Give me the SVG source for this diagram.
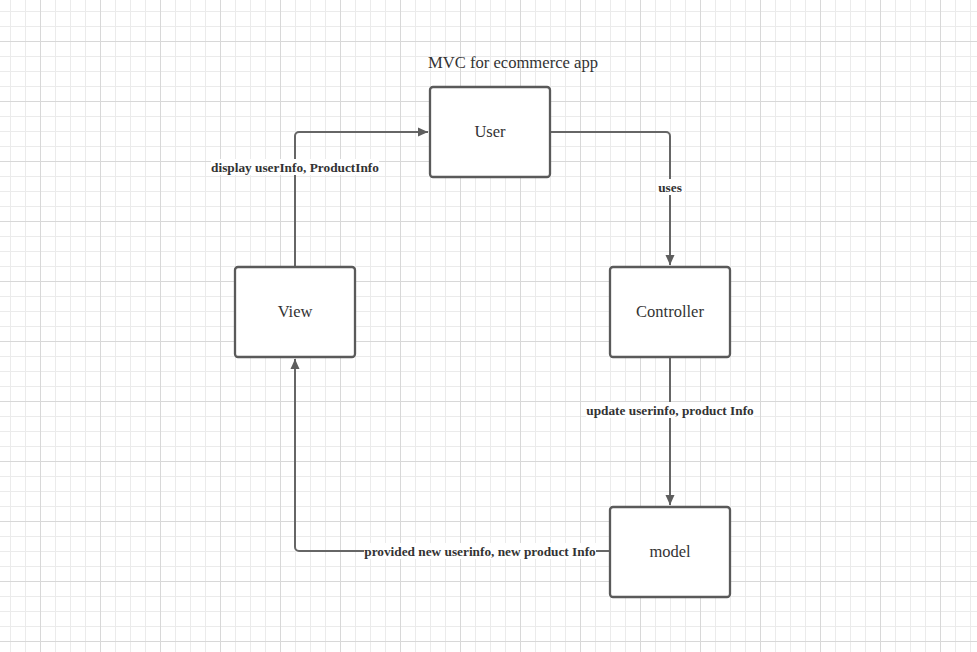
<svg xmlns="http://www.w3.org/2000/svg" width="977" height="652" viewBox="0 0 977 652">
<defs>
<pattern id="minor" width="15" height="15" patternUnits="userSpaceOnUse" x="10" y="11">
<path d="M0.5 0V15M0 0.5H15" stroke="#ebebeb" stroke-width="1" fill="none"/>
</pattern>
<pattern id="major" width="60" height="60" patternUnits="userSpaceOnUse" x="40" y="41">
<path d="M0.5 0V60M0 0.5H60" stroke="#d8d8d8" stroke-width="1" fill="none"/>
</pattern>
<marker id="arr" viewBox="0 0 10 10" refX="10" refY="5" markerWidth="10" markerHeight="10" markerUnits="userSpaceOnUse" orient="auto">
<path d="M0 0.5L10 5L0 9.5Z" fill="#5e5e5e"/>
</marker>
</defs>
<style>
.box{fill:#fff;stroke:#5a5a5a;stroke-width:2.3}
.conn{fill:none;stroke:#666;stroke-width:2}
.nt{font-family:"Liberation Serif",serif;font-size:16.5px;fill:#333;text-anchor:middle;dominant-baseline:central}
.ttl{font-size:16.6px}
.lbl{font-family:"Liberation Serif",serif;font-size:13.3px;font-weight:bold;fill:#333;text-anchor:middle;dominant-baseline:central}
.lb{fill:#fff}
</style>
<rect width="977" height="652" fill="#fff"/>
<rect width="977" height="652" fill="url(#minor)"/>
<rect width="977" height="652" fill="url(#major)"/>
<text class="nt ttl" x="513" y="62">MVC for ecommerce app</text>
<g id="connectors">
<path class="conn" d="M550 132H666a4 4 0 0 1 4 4V265" marker-end="url(#arr)"/>
<path class="conn" d="M670 357V505" marker-end="url(#arr)"/>
<path class="conn" d="M610 551H299a4 4 0 0 1-4-4V359" marker-end="url(#arr)"/>
<path class="conn" d="M295 267V136a4 4 0 0 1 4-4H428" marker-end="url(#arr)"/>
<rect class="lb" x="656" y="179" width="28" height="16"/>
<text class="lbl" x="670" y="187">uses</text>
<rect class="lb" x="586" y="402" width="168" height="16"/>
<text class="lbl" x="670" y="410">update userinfo, product Info</text>
<rect class="lb" x="364" y="543" width="232" height="16"/>
<text class="lbl" x="480" y="551">provided new userinfo, new product Info</text>
<rect class="lb" x="211" y="159" width="168" height="16"/>
<text class="lbl" x="295" y="167">display userInfo, ProductInfo</text>
</g>
<g id="user"><rect class="box" x="430" y="87" width="120" height="90" rx="3"/><text class="nt" x="490" y="131">User</text></g>
<g id="controller"><rect class="box" x="610" y="267" width="120" height="90" rx="3"/><text class="nt" x="670" y="311">Controller</text></g>
<g id="view"><rect class="box" x="235" y="267" width="120" height="90" rx="3"/><text class="nt" x="295" y="311">View</text></g>
<g id="model"><rect class="box" x="610" y="507" width="120" height="90" rx="3"/><text class="nt" x="670" y="551">model</text></g>
</svg>
